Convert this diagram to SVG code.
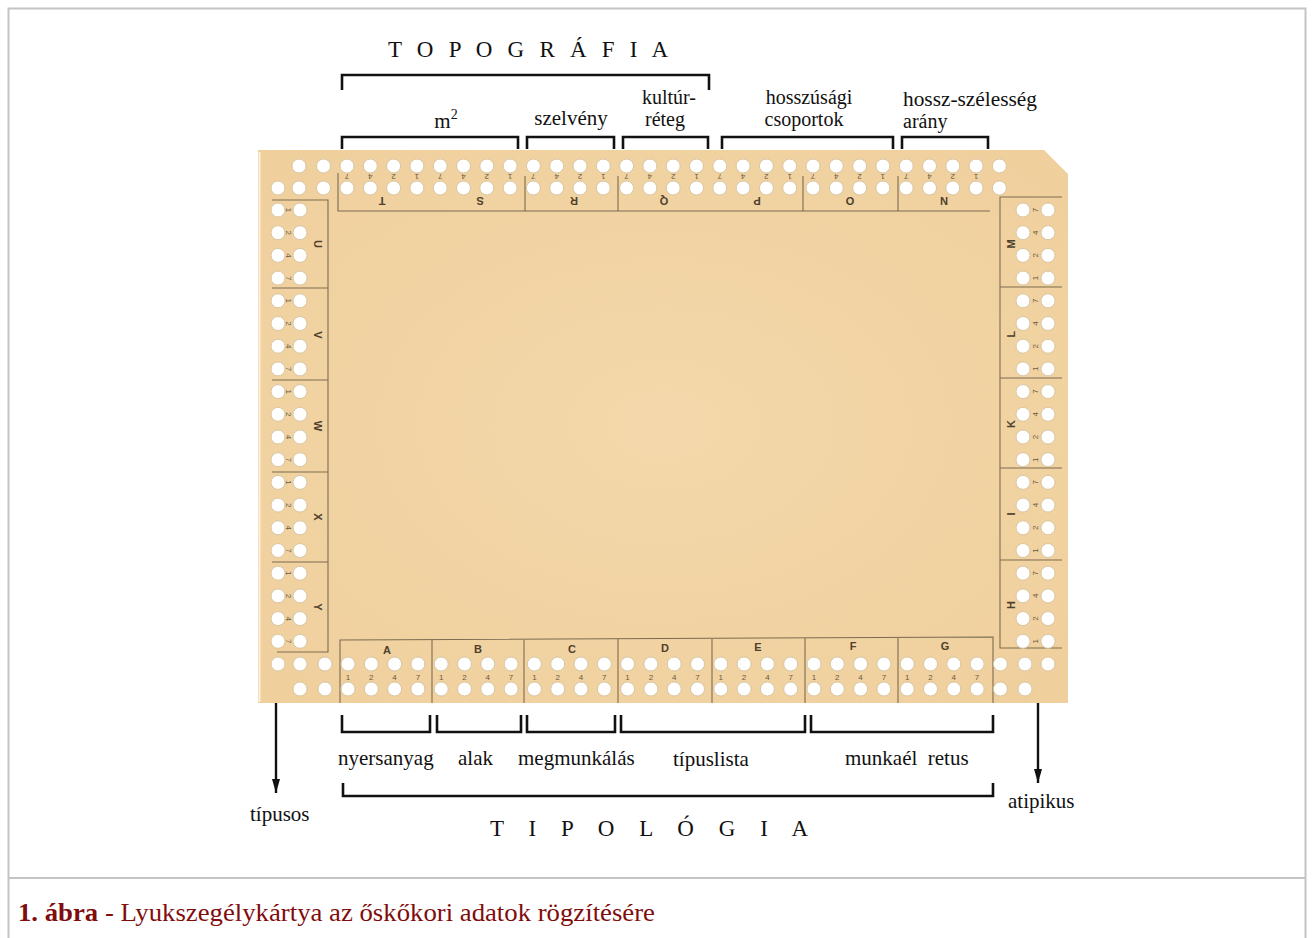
<svg xmlns="http://www.w3.org/2000/svg" xmlns:xlink="http://www.w3.org/1999/xlink" width="1314" height="938" viewBox="0 0 1314 938">
<style>
.lbl{font-family:"Liberation Serif","Times New Roman",serif;font-size:21px;fill:#111}
.lb2{font-family:"Liberation Serif","Times New Roman",serif;font-size:20px;fill:#111}
.big{font-family:"Liberation Serif","Times New Roman",serif;font-size:23px;fill:#111}
.br{fill:none;stroke:#111;stroke-width:2.6}
.ln{fill:none;stroke:#7d6c50;stroke-width:1.1}
.num{font-family:"Liberation Sans",Arial,sans-serif;font-size:8px;fill:#6b5a40}
.let{font-family:"Liberation Sans",Arial,sans-serif;font-size:11px;font-weight:bold;fill:#4e402c}
.h{fill:#ffffff;stroke:#d9c6a2;stroke-width:1}
.cap{font-family:"Liberation Serif","Times New Roman",serif;font-size:26px;fill:#7f0d0d}
</style>
<defs>
<radialGradient id="paper" cx="0.5" cy="0.5" r="0.7">
<stop offset="0" stop-color="#F4D8AB"/>
<stop offset="1" stop-color="#EFCF9C"/>
</radialGradient>
<circle id="h" class="h" r="7"/>
<g id="pv"><use href="#h"/><use href="#h" y="22"/></g>
<g id="pvb"><use href="#h"/><use href="#h" y="25"/></g>
<g id="ph"><use href="#h"/><use href="#h" x="22"/></g>
<g id="phr"><use href="#h"/><use href="#h" x="25"/></g>
<marker id="arr" viewBox="0 0 14 10" refX="14" refY="5" markerWidth="14" markerHeight="10" markerUnits="userSpaceOnUse" orient="auto">
<path d="M0,1 L14,5 L0,9 Z" fill="#111"/>
</marker>
</defs>

<rect x="0" y="0" width="1314" height="938" fill="#ffffff"/>
<g id="frame">
<rect x="8.5" y="8.5" width="1297" height="945" fill="none" stroke="#c4c4c4" stroke-width="2"/>
<line x1="8.5" y1="878" x2="1305.5" y2="878" stroke="#c4c4c4" stroke-width="2"/>
</g>

<g id="card">
<path d="M258,150 L1044,150 L1068,174 L1068,703 L258,703 Z" fill="url(#paper)"/>
<line x1="259.5" y1="152" x2="259.5" y2="702" stroke="#fbf0dc" stroke-width="2"/>
<!-- printed frame lines -->
<path class="ln" d="M338,173 V211 H990"/>
<path class="ln" d="M525,176 V211 M618,176 V211 M803,176 V211 M898,176 V211"/>
<path class="ln" d="M272,200 H328 V652 H277"/>
<path class="ln" d="M272,288 H328 M272,380 H328 M272,472 H328 M272,562 H328"/>
<path class="ln" d="M1062,197 H1000 V648 H1062"/>
<path class="ln" d="M1000,287 H1062 M1000,378 H1062 M1000,468 H1062 M1000,560 H1062"/>
<path class="ln" d="M340,703 V640 L993,637 V703"/>
<path class="ln" d="M432,640 V703 M524,640 V703 M618,639 V703 M712,639 V703 M805,638 V703 M898,638 V703"/>

<!-- holes: top rows -->
<use href="#h" x="278" y="188"/>
<use href="#pv" x="299" y="166"/><use href="#pv" x="323.5" y="166"/>
<use href="#pv" x="347" y="166"/><use href="#pv" x="370.3" y="166"/><use href="#pv" x="393.6" y="166"/><use href="#pv" x="416.9" y="166"/>
<use href="#pv" x="440.2" y="166"/><use href="#pv" x="463.5" y="166"/><use href="#pv" x="486.8" y="166"/><use href="#pv" x="510.1" y="166"/>
<use href="#pv" x="533.4" y="166"/><use href="#pv" x="556.7" y="166"/><use href="#pv" x="580" y="166"/><use href="#pv" x="603.3" y="166"/>
<use href="#pv" x="626.6" y="166"/><use href="#pv" x="649.9" y="166"/><use href="#pv" x="673.2" y="166"/><use href="#pv" x="696.5" y="166"/>
<use href="#pv" x="719.8" y="166"/><use href="#pv" x="743.1" y="166"/><use href="#pv" x="766.4" y="166"/><use href="#pv" x="789.7" y="166"/>
<use href="#pv" x="813" y="166"/><use href="#pv" x="836.3" y="166"/><use href="#pv" x="859.6" y="166"/><use href="#pv" x="882.9" y="166"/>
<use href="#pv" x="906.2" y="166"/><use href="#pv" x="929.5" y="166"/><use href="#pv" x="952.8" y="166"/><use href="#pv" x="976.1" y="166"/>
<use href="#pv" x="999.4" y="166"/>
<!-- holes: bottom rows -->
<use href="#h" x="278" y="664"/>
<use href="#pvb" x="300" y="664"/><use href="#pvb" x="325" y="664"/>
<use href="#pvb" x="348" y="664"/><use href="#pvb" x="371.3" y="664"/><use href="#pvb" x="394.6" y="664"/><use href="#pvb" x="417.9" y="664"/>
<use href="#pvb" x="441.2" y="664"/><use href="#pvb" x="464.5" y="664"/><use href="#pvb" x="487.8" y="664"/><use href="#pvb" x="511.1" y="664"/>
<use href="#pvb" x="534.4" y="664"/><use href="#pvb" x="557.7" y="664"/><use href="#pvb" x="581" y="664"/><use href="#pvb" x="604.3" y="664"/>
<use href="#pvb" x="627.6" y="664"/><use href="#pvb" x="650.9" y="664"/><use href="#pvb" x="674.2" y="664"/><use href="#pvb" x="697.5" y="664"/>
<use href="#pvb" x="720.8" y="664"/><use href="#pvb" x="744.1" y="664"/><use href="#pvb" x="767.4" y="664"/><use href="#pvb" x="790.7" y="664"/>
<use href="#pvb" x="814" y="664"/><use href="#pvb" x="837.3" y="664"/><use href="#pvb" x="860.6" y="664"/><use href="#pvb" x="883.9" y="664"/>
<use href="#pvb" x="907.2" y="664"/><use href="#pvb" x="930.5" y="664"/><use href="#pvb" x="953.8" y="664"/><use href="#pvb" x="977.1" y="664"/>
<use href="#pvb" x="1000.4" y="664"/><use href="#pvb" x="1025" y="664"/><use href="#h" x="1048" y="664"/>
<!-- holes: left columns -->
<use href="#ph" x="278" y="210"/><use href="#ph" x="278" y="232.7"/><use href="#ph" x="278" y="255.4"/><use href="#ph" x="278" y="278.1"/>
<use href="#ph" x="278" y="300.8"/><use href="#ph" x="278" y="323.5"/><use href="#ph" x="278" y="346.2"/><use href="#ph" x="278" y="368.9"/>
<use href="#ph" x="278" y="391.6"/><use href="#ph" x="278" y="414.3"/><use href="#ph" x="278" y="437"/><use href="#ph" x="278" y="459.7"/>
<use href="#ph" x="278" y="482.4"/><use href="#ph" x="278" y="505.1"/><use href="#ph" x="278" y="527.8"/><use href="#ph" x="278" y="550.5"/>
<use href="#ph" x="278" y="573.2"/><use href="#ph" x="278" y="595.9"/><use href="#ph" x="278" y="618.6"/><use href="#ph" x="278" y="641.3"/>
<!-- holes: right columns -->
<use href="#phr" x="1023" y="210"/><use href="#phr" x="1023" y="232.7"/><use href="#phr" x="1023" y="255.4"/><use href="#phr" x="1023" y="278.1"/>
<use href="#phr" x="1023" y="300.8"/><use href="#phr" x="1023" y="323.5"/><use href="#phr" x="1023" y="346.2"/><use href="#phr" x="1023" y="368.9"/>
<use href="#phr" x="1023" y="391.6"/><use href="#phr" x="1023" y="414.3"/><use href="#phr" x="1023" y="437"/><use href="#phr" x="1023" y="459.7"/>
<use href="#phr" x="1023" y="482.4"/><use href="#phr" x="1023" y="505.1"/><use href="#phr" x="1023" y="527.8"/><use href="#phr" x="1023" y="550.5"/>
<use href="#phr" x="1023" y="573.2"/><use href="#phr" x="1023" y="595.9"/><use href="#phr" x="1023" y="618.6"/><use href="#phr" x="1023" y="641.3"/>

<!-- printed numbers -->
<text class="num" rotate="180" y="174" x="349.2 372.5 395.8 419.1 442.4 465.7 489 512.3 535.6 558.9 582.2 605.5 628.8 652.1 675.4 698.7 722 745.3 768.6 791.9 815.2 838.5 861.8 885.1 908.4 931.7 955 978.3">7421742174217421742174217421</text>
<text class="num" text-anchor="middle" y="680" x="348 371.3 394.6 417.9 441.2 464.5 487.8 511.1 534.4 557.7 581 604.3 627.6 650.9 674.2 697.5 720.8 744.1 767.4 790.7 814 837.3 860.6 883.9 907.2 930.5 953.8 977.1">1247124712471247124712471247</text>
<text class="num" rotate="90" x="286.2 286.2 286.2 286.2 286.2 286.2 286.2 286.2 286.2 286.2 286.2 286.2 286.2 286.2 286.2 286.2 286.2 286.2 286.2 286.2" y="207.8 230.5 253.2 275.9 298.6 321.3 344 366.7 389.4 412.1 434.8 457.5 480.2 502.9 525.6 548.3 571 593.7 616.4 639.1">12471247124712471247</text>
<text class="num" rotate="-90" x="1038.4 1038.4 1038.4 1038.4 1038.4 1038.4 1038.4 1038.4 1038.4 1038.4 1038.4 1038.4 1038.4 1038.4 1038.4 1038.4 1038.4 1038.4 1038.4 1038.4" y="212.2 234.9 257.6 280.3 303 325.7 348.4 371.1 393.8 416.5 439.2 461.9 484.6 507.3 530 552.7 575.4 598.1 620.8 643.5">74217421742174217421</text>

<!-- printed letters -->
<g class="let" text-anchor="middle" dominant-baseline="central">
<text x="382" y="201" transform="rotate(180 382 201)">T</text>
<text x="480" y="201" transform="rotate(180 480 201)">S</text>
<text x="574" y="201" transform="rotate(180 574 201)">R</text>
<text x="664" y="201" transform="rotate(180 664 201)">Q</text>
<text x="757" y="201" transform="rotate(180 757 201)">P</text>
<text x="850" y="201" transform="rotate(180 850 201)">O</text>
<text x="944" y="201" transform="rotate(180 944 201)">N</text>
<text x="387" y="650">A</text>
<text x="478" y="649">B</text>
<text x="572" y="649">C</text>
<text x="665" y="648">D</text>
<text x="758" y="647">E</text>
<text x="853" y="646">F</text>
<text x="945" y="646">G</text>
<text x="318" y="244" transform="rotate(90 318 244)">U</text>
<text x="318" y="335" transform="rotate(90 318 335)">V</text>
<text x="318" y="426" transform="rotate(90 318 426)">W</text>
<text x="318" y="517" transform="rotate(90 318 517)">X</text>
<text x="318" y="607" transform="rotate(90 318 607)">Y</text>
<text x="1011" y="244" transform="rotate(-90 1011 244)">M</text>
<text x="1011" y="334" transform="rotate(-90 1011 334)">L</text>
<text x="1011" y="424" transform="rotate(-90 1011 424)">K</text>
<text x="1011" y="514" transform="rotate(-90 1011 514)">I</text>
<text x="1011" y="605" transform="rotate(-90 1011 605)">H</text>
</g>
</g>

<g id="topografia">
<path class="br" d="M342,90 V75 H709 V90"/>
<text class="big" x="388" y="57" textLength="280" lengthAdjust="spacing">T O P O G R Á F I A</text>
</g>
<g id="m2">
<path class="br" d="M342,149 V137 H518 V149"/>
<text class="lbl" x="446" y="128" text-anchor="middle">m<tspan dy="-9" font-size="14">2</tspan></text>
</g>
<g id="szelveny">
<path class="br" d="M527,149 V137 H614 V149"/>
<text class="lbl" x="571" y="125" text-anchor="middle">szelvény</text>
</g>
<g id="kulturreteg">
<path class="br" d="M623,149 V137 H708 V149"/>
<text class="lb2" x="669" y="104" text-anchor="middle">kultúr-</text>
<text class="lb2" x="665" y="126" text-anchor="middle">réteg</text>
</g>
<g id="hosszusagi">
<path class="br" d="M722,149 V137 H893 V149"/>
<text class="lb2" x="809" y="104" text-anchor="middle">hosszúsági</text>
<text class="lb2" x="804" y="126" text-anchor="middle">csoportok</text>
</g>
<g id="arany">
<path class="br" d="M902,149 V137 H988 V149"/>
<text class="lb2" x="903" y="106" textLength="134" lengthAdjust="spacingAndGlyphs">hossz-szélesség</text>
<text class="lb2" x="903" y="128">arány</text>
</g>

<g id="nyersanyag">
<path class="br" d="M342,715 V732 H430 V715"/>
<text class="lbl" x="338" y="765">nyersanyag</text>
</g>
<g id="alak">
<path class="br" d="M437,715 V732 H521 V715"/>
<text class="lbl" x="458" y="765">alak</text>
</g>
<g id="megmunkalas">
<path class="br" d="M527,715 V732 H615 V715"/>
<text class="lbl" x="518" y="765">megmunkálás</text>
</g>
<g id="tipuslista">
<path class="br" d="M621,715 V732 H805 V715"/>
<text class="lbl" x="673" y="766">típuslista</text>
</g>
<g id="munkael">
<path class="br" d="M811,715 V732 H993 V715"/>
<text class="lbl" x="845" y="765" xml:space="preserve">munkaél  retus</text>
</g>
<g id="tipologia">
<path class="br" d="M343,783 V796 H993 V783"/>
<text class="big" x="490" y="836" textLength="318" lengthAdjust="spacing">T I P O L Ó G I A</text>
</g>
<g id="tipusos">
<text class="lbl" x="250" y="821">típusos</text>
</g>
<g id="atipikus">
<text class="lbl" x="1008" y="808">atipikus</text>
</g>

<g id="connectors" stroke="#111" stroke-width="2.4" fill="none">
<line x1="276" y1="703" x2="276" y2="793" marker-end="url(#arr)"/>
<line x1="1038" y1="703" x2="1038" y2="783" marker-end="url(#arr)"/>
</g>

<g id="caption">
<text class="cap" x="18" y="921" textLength="637" lengthAdjust="spacingAndGlyphs"><tspan font-weight="bold">1. ábra</tspan> - Lyukszegélykártya az őskőkori adatok rögzítésére</text>
</g>
</svg>
